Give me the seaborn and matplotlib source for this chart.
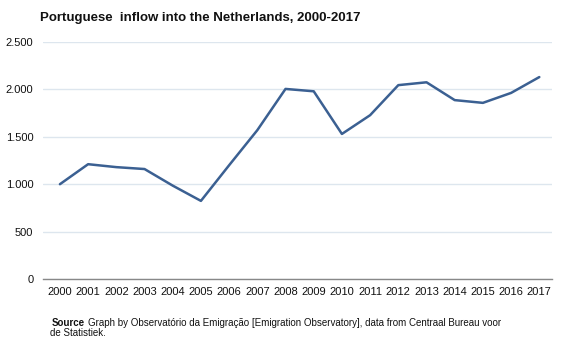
import matplotlib
matplotlib.use("Agg")
import matplotlib.pyplot as plt
import seaborn as sns
import pandas as pd
from matplotlib.ticker import FuncFormatter

years = ["2000", "2001", "2002", "2003", "2004", "2005", "2006", "2007", "2008",
         "2009", "2010", "2011", "2012", "2013", "2014", "2015", "2016", "2017"]
inflow = [1000, 1211, 1180, 1160, 985, 824, 1200, 1570, 2005,
          1980, 1530, 1728, 2045, 2075, 1887, 1858, 1963, 2130]
yticks = [0, 500, 1000, 1500, 2000, 2500]

sns.set_theme(style="white")
plt.rcParams['font.family'] = ['Liberation Sans', 'DejaVu Sans']

df = pd.DataFrame({"year": years, "inflow": inflow})
df["pos"] = range(len(years))

fig = plt.figure(figsize=(5.67, 3.4), dpi=100)
ax = fig.add_axes([43/567, 1-279/340, (552-43)/567, (279-42)/340])

sns.lineplot(data=df, x="pos", y="inflow", ax=ax, color="#3b6092", linewidth=1.8)

ax.set_xlim(-0.6, 17.45)
ax.set_ylim(0, 2500)
ax.set_yticks(yticks)
ax.yaxis.set_major_formatter(FuncFormatter(lambda v, p: f"{int(v):,}".replace(",", ".")))
ax.set_xticks(df["pos"])
ax.set_xticklabels(years)
ax.grid(axis="y", color="#dde6ee", linewidth=1)
ax.set_axisbelow(True)
for s in ["top", "right", "left"]:
    ax.spines[s].set_visible(False)
ax.spines["bottom"].set_color("#888888")
ax.spines["bottom"].set_linewidth(1)
ax.tick_params(axis="both", length=0, labelsize=8, colors="#111111", pad=6)
ax.tick_params(axis="y", pad=7)
ax.set_xlabel("")
ax.set_ylabel("")

fig.text(40/567, 1-18/340, "Portuguese  inflow into the Netherlands, 2000-2017",
         fontsize=9.5, fontweight="bold", color="#111111", va="center", ha="left")
fig.text(52/567, 1-323/340, "Source", fontsize=7, fontweight="bold", color="#111111", va="center")
fig.text(88/567, 1-323/340, "Graph by Observatório da Emigração [Emigration Observatory], data from Centraal Bureau voor",
         fontsize=7, color="#111111", va="center")
fig.text(50/567, 1-333/340, "de Statistiek.", fontsize=7, color="#111111", va="center")

fig.savefig("out.png", dpi=100)
